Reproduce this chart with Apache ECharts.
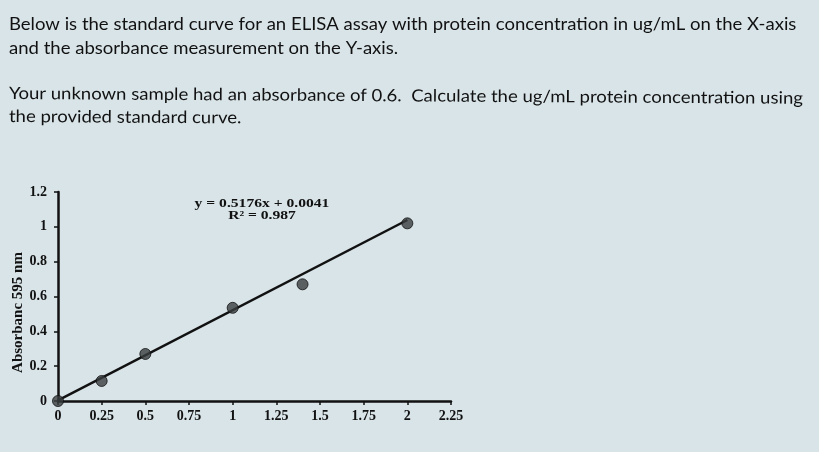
<!DOCTYPE html>
<html>
<head>
<meta charset="utf-8">
<script src="https://cdn.jsdelivr.net/npm/echarts@6/dist/echarts.min.js"></script>
<style>
  html, body { margin: 0; padding: 0; background: #dae5e9; }
  #chart { width: 819px; height: 452px; }
</style>
</head>
<body>
<div id="chart"></div>
<script>
// standard curve points (ug/mL, absorbance)
var concentration = [0, 0.25, 0.5, 1, 1.4, 2];
var absorbance = [0, 0.115, 0.27, 0.535, 0.67, 1.02];
// fitted line ends as drawn
var trendX = [0, 2];
var trendY = [0.0041, 1.0393];
var questionLines = [
    'Below is the standard curve for an ELISA assay with protein concentration in ug/mL on the X-axis',
    'and the absorbance measurement on the Y-axis.',
    'Your unknown sample had an absorbance of 0.6.  Calculate the ug/mL protein concentration using',
    'the provided standard curve.'
];
var lineTops = [16, 40, 85, 108];

var points = concentration.map(function (c, i) { return [c, absorbance[i]]; });
var trend = trendX.map(function (c, i) { return [c, trendY[i]]; });

var chart = echarts.init(document.getElementById('chart'));

var serifBold = {
    fontFamily: 'Liberation Serif',
    fontWeight: 'bold',
    fontSize: 14,
    color: '#111'
};

var option = {
    backgroundColor: '#d9e4e8',
    animation: false,
    graphic: questionLines.map(function (t, i) {
        return {
            type: 'text',
            x: 9,
            y: lineTops[i],
            scaleX: 1.09,
            rotation: i >= 2 ? -0.006 : 0,
            style: {
                text: t,
                font: '17px Lato',
                fill: '#111'
            }
        };
    }).concat([{
        type: 'text',
        x: 262,
        y: 197,
        scaleX: 1.2,
        style: {
            text: 'y = 0.5176x + 0.0041',
            font: 'bold 13px "Liberation Serif"',
            fill: '#111',
            align: 'center'
        }
    }, {
        type: 'text',
        x: 262,
        y: 209,
        scaleX: 1.2,
        style: {
            text: 'R² = 0.987',
            font: 'bold 13px "Liberation Serif"',
            fill: '#111',
            align: 'center'
        }
    }]),
    grid: {
        left: 58,
        right: 368,
        top: 192,
        bottom: 51
    },
    xAxis: {
        type: 'value',
        min: 0,
        max: 2.25,
        interval: 0.25,
        splitLine: { show: false },
        axisLine: { show: true, lineStyle: { color: '#111', width: 2.5 } },
        axisTick: { show: true, length: 4, lineStyle: { color: '#111', width: 1.5 } },
        axisLabel: Object.assign({ margin: 8, showMaxLabel: true }, serifBold)
    },
    yAxis: {
        type: 'value',
        min: 0,
        max: 1.2,
        interval: 0.2,
        name: 'Absorbanc 595 nm',
        nameLocation: 'middle',
        nameGap: 30,
        nameRotate: 90,
        nameTextStyle: {
            fontFamily: 'Liberation Serif',
            fontWeight: 'bold',
            fontSize: 15,
            color: '#111',
            padding: [0, 32, 0, 0]
        },
        splitLine: { show: false },
        axisLine: { show: true, lineStyle: { color: '#111', width: 2.5 } },
        axisTick: { show: true, length: 4, lineStyle: { color: '#111', width: 1.5 } },
        axisLabel: Object.assign({ margin: 11 }, serifBold)
    },
    series: [
        {
            type: 'line',
            data: trend,
            symbol: 'none',
            lineStyle: { color: '#111', width: 2.5 },
            z: 2
        },
        {
            type: 'scatter',
            data: points,
            symbolSize: 11,
            itemStyle: { color: '#3a3d3f', borderColor: '#111', borderWidth: 1 },
            z: 3
        }
    ]
};

chart.setOption(option);
</script>
</body>
</html>
